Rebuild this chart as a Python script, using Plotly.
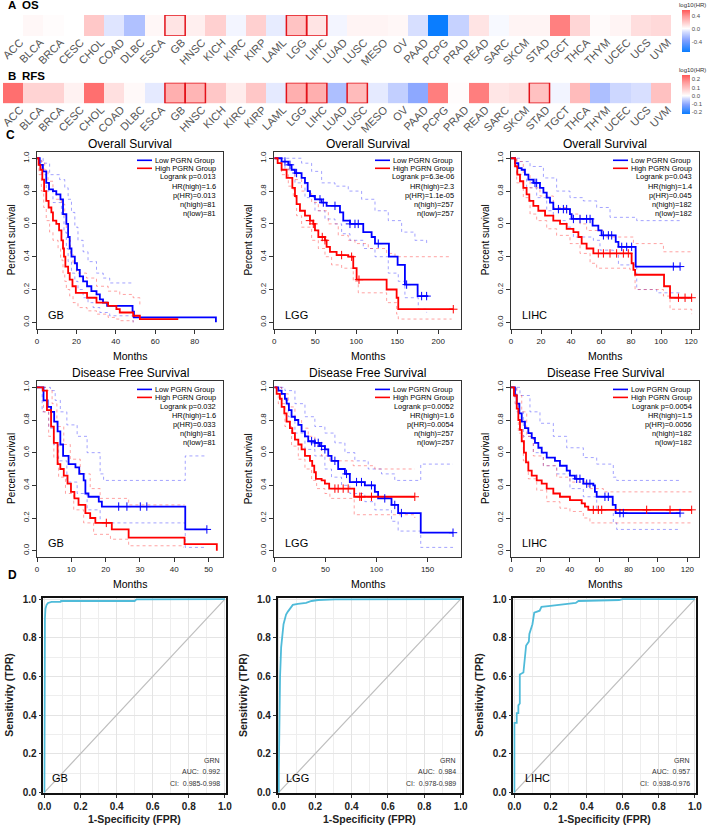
import plotly.graph_objects as go

W, H = 708, 826
FONT = "Arial, Liberation Sans, sans-serif"

# ---------------- heatmap data ----------------
cancers = ["ACC", "BLCA", "BRCA", "CESC", "CHOL", "COAD", "DLBC", "ESCA", "GB", "HNSC", "KICH",
           "KIRC", "KIRP", "LAML", "LGG", "LIHC", "LUAD", "LUSC", "MESO", "OV", "PAAD", "PCPG",
           "PRAD", "READ", "SARC", "SKCM", "STAD", "TGCT", "THCA", "THYM", "UCEC", "UCS", "UVM"]
os_log_hr = [0.0, 0.03, 0.01, 0.0, 0.2, -0.08, -0.22, 0.03, 0.1, 0.06, 0.17,
             -0.03, 0.17, -0.06, 0.22, 0.1, -0.03, 0.04, 0.04, 0.03, -0.1, -0.72,
             -0.15, 0.1, -0.02, 0.04, 0.04, 0.45, 0.15, 0.02, 0.04, 0.12, 0.14]
rfs_log_hr = [0.22, 0.07, 0.07, 0.02, 0.22, 0.05, 0.01, -0.02, 0.13, 0.12, 0.09,
              0.03, 0.09, -0.02, 0.13, 0.13, -0.07, 0.11, -0.02, -0.05, -0.1, 0.2,
              0.005, 0.2, 0.04, 0.05, 0.1, -0.01, 0.11, -0.07, -0.04, -0.03, 0.1]
os_sig = ["GB", "LGG", "LIHC"]
rfs_sig = ["GB", "HNSC", "LGG", "LIHC", "LUSC", "STAD"]
os_ticks = [-0.4, 0.0, 0.4]
rfs_ticks = [-0.2, -0.1, 0.0, 0.1, 0.2]

# ---------------- Kaplan-Meier data (months, survival) ----------------
GB_OS_LOW = [(0, 1.0), (1.4, 0.96), (3.0, 0.92), (4.7, 0.85), (6.1, 0.81), (8.1, 0.80), (9.8, 0.78),
             (11.9, 0.75), (13.2, 0.66), (14.9, 0.60), (15.8, 0.52), (16.6, 0.45), (17.5, 0.40),
             (19.2, 0.36), (20.3, 0.32), (21.7, 0.28), (23.4, 0.25), (25.4, 0.22), (27.6, 0.19),
             (30.2, 0.17), (31.9, 0.14), (33.5, 0.12), (35.6, 0.10), (48.5, 0.065), (49.2, 0.03),
             (90.8, 0.03), (90.8, 0.0)]
GB_OS_HIGH = [(0, 1.0), (0.8, 0.96), (1.7, 0.93), (2.7, 0.87), (3.6, 0.80), (4.7, 0.74), (5.9, 0.70),
              (7.3, 0.67), (8.1, 0.62), (9.8, 0.60), (11.2, 0.56), (12.4, 0.50), (13.2, 0.45),
              (13.7, 0.40), (14.4, 0.34), (15.8, 0.30), (16.6, 0.26), (18.0, 0.22), (19.7, 0.18),
              (25.4, 0.15), (30.2, 0.12), (36.1, 0.10), (40.3, 0.08), (42.0, 0.06), (48.8, 0.04),
              (52.2, 0.02), (71.7, 0.02)]
GB_OS_LOW_UP = [(0, 1.0), (2.2, 1.0), (3.1, 0.97), (6.4, 0.90), (11.5, 0.87), (14.1, 0.82), (15.8, 0.75),
                (17.5, 0.67), (19.2, 0.58), (20.8, 0.50), (23.4, 0.43), (25.9, 0.37), (30.2, 0.30),
                (33.6, 0.27), (36.9, 0.24), (48.8, 0.24)]
GB_OS_LOW_DN = [(0, 1.0), (2.2, 0.90), (4.7, 0.80), (8.1, 0.73), (12.4, 0.65), (13.7, 0.55), (14.9, 0.45),
                (15.8, 0.37), (17.5, 0.30), (19.2, 0.25), (20.8, 0.20), (23.4, 0.15), (25.9, 0.12),
                (28.5, 0.09), (31.9, 0.06), (36.9, 0.04), (48.5, 0.02), (48.8, 0.0)]
GB_OS_HIGH_UP = [(0, 1.0), (2.2, 0.98), (3.9, 0.93), (5.6, 0.86), (8.1, 0.80), (9.8, 0.75), (12.4, 0.72),
                 (14.1, 0.65), (14.9, 0.57), (15.8, 0.50), (17.0, 0.42), (18.3, 0.36), (20.0, 0.30),
                 (25.1, 0.27), (30.2, 0.22), (36.1, 0.19), (42.0, 0.17), (48.8, 0.15), (52.2, 0.10)]
GB_OS_HIGH_DN = [(0, 1.0), (1.0, 0.90), (2.2, 0.80), (3.4, 0.70), (4.7, 0.62), (6.4, 0.55), (8.1, 0.50),
                 (10.7, 0.45), (12.0, 0.38), (13.2, 0.30), (14.1, 0.25), (14.9, 0.20), (16.6, 0.16),
                 (18.3, 0.12), (20.8, 0.09), (25.4, 0.07), (30.2, 0.05), (36.1, 0.03), (40.3, 0.02),
                 (42.0, 0.01), (48.8, 0.0)]
GB_OS_LOW_CENS = []
GB_OS_HIGH_CENS = []
GB_OS_STATS = ["Logrank p=0.013", "HR(high)=1.6", "p(HR)=0.013", "n(high)=81", "n(low)=81"]

LGG_OS_LOW = [(0, 1.0), (8.9, 0.98), (17.1, 0.96), (21.1, 0.93), (25.2, 0.91), (33.3, 0.88), (37.4, 0.85),
              (40.7, 0.80), (43.5, 0.77), (49.6, 0.75), (57.7, 0.73), (63.8, 0.71), (80.1, 0.67),
              (84.1, 0.62), (92.3, 0.60), (108.5, 0.55), (118.7, 0.52), (122.8, 0.48), (139.8, 0.40),
              (150.4, 0.35), (159.3, 0.23), (174.8, 0.16), (187.8, 0.16)]
LGG_OS_HIGH = [(0, 1.0), (4.1, 0.97), (8.9, 0.93), (15.0, 0.88), (22.0, 0.82), (25.2, 0.77), (27.2, 0.72),
               (31.3, 0.68), (37.4, 0.65), (43.5, 0.62), (47.6, 0.60), (49.6, 0.56), (53.7, 0.52),
               (61.8, 0.50), (63.8, 0.46), (67.9, 0.43), (76.0, 0.41), (90.2, 0.40), (96.3, 0.33),
               (100.4, 0.26), (137.0, 0.20), (149.2, 0.15), (151.2, 0.08), (218.3, 0.08)]
LGG_OS_LOW_UP = [(0, 1.0), (33.3, 0.97), (45.5, 0.92), (57.7, 0.85), (74.0, 0.83), (90.2, 0.80),
                 (106.5, 0.75), (122.8, 0.68), (139.0, 0.62), (155.3, 0.55), (171.5, 0.50), (185.8, 0.48)]
LGG_OS_LOW_DN = [(0, 1.0), (13.0, 0.93), (25.2, 0.85), (37.4, 0.76), (49.6, 0.68), (61.8, 0.63), (74.0, 0.60),
                 (82.1, 0.54), (92.3, 0.50), (108.5, 0.45), (122.8, 0.40), (139.0, 0.30), (151.2, 0.25),
                 (159.3, 0.15), (175.6, 0.08), (185.8, 0.06)]
LGG_OS_HIGH_UP = [(0, 1.0), (8.9, 0.98), (17.1, 0.93), (25.2, 0.87), (33.3, 0.80), (45.5, 0.73), (53.7, 0.68),
                  (65.9, 0.60), (78.0, 0.53), (90.2, 0.50), (98.4, 0.48), (114.6, 0.45), (137.0, 0.42),
                  (147.2, 0.40), (216.3, 0.40)]
LGG_OS_HIGH_DN = [(0, 1.0), (8.9, 0.90), (17.1, 0.83), (23.2, 0.76), (27.2, 0.65), (33.3, 0.58), (45.5, 0.50),
                  (53.7, 0.45), (61.8, 0.40), (69.9, 0.35), (82.1, 0.33), (96.3, 0.25), (102.4, 0.18),
                  (137.0, 0.12), (149.2, 0.05), (151.2, 0.02), (216.3, 0.02)]
LGG_OS_LOW_CENS = [(13.0, 0.98), (19.1, 0.96), (27.2, 0.91), (55.7, 0.75), (59.8, 0.73), (74.0, 0.71),
                   (92.3, 0.60), (98.4, 0.60), (102.4, 0.60), (126.8, 0.48), (161.4, 0.23), (179.7, 0.16),
                   (185.8, 0.16)]
LGG_OS_HIGH_CENS = [(43.5, 0.62), (47.6, 0.60), (58.5, 0.52), (61.8, 0.50), (82.1, 0.41), (94.3, 0.40),
                    (103.3, 0.26), (218.3, 0.08)]
LGG_OS_STATS = ["Logrank p=6.3e-06", "HR(high)=2.3", "p(HR)=1.1e-05", "n(high)=257", "n(low)=257"]

LIHC_OS_LOW = [(0, 1.0), (2.7, 0.97), (4.9, 0.94), (7.1, 0.93), (9.3, 0.90), (11.6, 0.87), (14.9, 0.85),
               (19.3, 0.82), (21.6, 0.79), (23.8, 0.76), (26.0, 0.73), (28.2, 0.69), (39.3, 0.66),
               (40.4, 0.63), (54.4, 0.59), (58.2, 0.56), (60.4, 0.53), (69.8, 0.49), (71.6, 0.46),
               (83.1, 0.34), (112.7, 0.34)]
LIHC_OS_HIGH = [(0, 1.0), (2.7, 0.95), (4.2, 0.90), (6.0, 0.86), (8.2, 0.82), (10.4, 0.78), (12.2, 0.74),
                (14.9, 0.71), (18.2, 0.68), (22.7, 0.65), (28.2, 0.62), (32.7, 0.60), (37.1, 0.57),
                (41.6, 0.55), (44.9, 0.52), (47.1, 0.48), (50.4, 0.45), (54.9, 0.42), (80.4, 0.36),
                (81.6, 0.32), (82.7, 0.29), (102.0, 0.22), (106.0, 0.15), (120.4, 0.15)]
LIHC_OS_LOW_UP = [(0, 1.0), (6.0, 0.98), (12.7, 0.95), (21.6, 0.88), (30.4, 0.80), (39.3, 0.76), (48.2, 0.74),
                  (57.1, 0.70), (66.0, 0.64), (83.8, 0.62), (97.1, 0.62), (112.7, 0.63)]
LIHC_OS_LOW_DN = [(0, 1.0), (3.8, 0.90), (10.4, 0.82), (17.1, 0.76), (23.8, 0.68), (28.2, 0.62), (37.1, 0.58),
                  (41.6, 0.52), (54.9, 0.50), (59.3, 0.44), (68.2, 0.42), (71.6, 0.35), (83.8, 0.20),
                  (97.1, 0.18), (112.7, 0.18)]
LIHC_OS_HIGH_UP = [(0, 1.0), (3.8, 0.98), (8.2, 0.90), (12.7, 0.82), (19.3, 0.77), (28.2, 0.70), (37.1, 0.66),
                   (46.0, 0.60), (50.4, 0.56), (61.6, 0.52), (79.3, 0.52), (81.6, 0.48), (101.6, 0.43),
                   (120.4, 0.43)]
LIHC_OS_HIGH_DN = [(0, 1.0), (3.8, 0.85), (8.2, 0.76), (12.7, 0.66), (17.1, 0.62), (23.8, 0.57), (30.4, 0.53),
                   (39.3, 0.48), (46.0, 0.42), (52.7, 0.36), (57.1, 0.33), (79.3, 0.32), (82.7, 0.20),
                   (101.6, 0.16), (106.0, 0.08), (120.4, 0.05)]
LIHC_OS_LOW_CENS = [(16.0, 0.85), (17.1, 0.85), (31.6, 0.69), (34.9, 0.69), (37.1, 0.69), (41.6, 0.63),
                    (46.0, 0.63), (50.4, 0.63), (52.7, 0.63), (61.6, 0.53), (64.9, 0.53), (67.1, 0.53),
                    (73.8, 0.46), (77.1, 0.46), (80.4, 0.46), (108.2, 0.34), (112.7, 0.34)]
LIHC_OS_HIGH_CENS = [(58.2, 0.42), (61.6, 0.42), (66.0, 0.42), (70.4, 0.42), (74.9, 0.42), (78.2, 0.42),
                     (111.6, 0.15), (116.0, 0.15), (120.4, 0.15)]
LIHC_OS_STATS = ["Logrank p=0.043", "HR(high)=1.4", "p(HR)=0.045", "n(high)=182", "n(low)=182"]

GB_DFS_LOW = [(0, 1.0), (1.9, 0.92), (3.1, 0.88), (4.1, 0.85), (5.0, 0.79), (6.0, 0.73), (6.8, 0.65),
              (7.6, 0.58), (9.2, 0.53), (11.2, 0.51), (12.3, 0.47), (13.6, 0.43), (14.1, 0.35),
              (15.0, 0.33), (18.0, 0.30), (18.9, 0.27), (43.2, 0.13), (49.5, 0.13)]
GB_DFS_HIGH = [(0, 1.0), (1.7, 0.98), (2.9, 0.86), (4.1, 0.76), (4.9, 0.66), (6.0, 0.53), (6.8, 0.50),
               (7.8, 0.46), (8.9, 0.41), (9.9, 0.36), (10.9, 0.32), (12.1, 0.28), (14.1, 0.23),
               (15.5, 0.20), (17.0, 0.17), (21.8, 0.13), (26.7, 0.08), (43.0, 0.04), (52.4, 0.04),
               (52.4, 0.0)]
GB_DFS_LOW_UP = [(0, 1.0), (3.9, 0.98), (5.3, 0.92), (6.8, 0.85), (8.7, 0.77), (11.7, 0.70), (14.6, 0.60),
                 (18.4, 0.47), (19.4, 0.43), (43.2, 0.58), (49.0, 0.58)]
GB_DFS_LOW_DN = [(0, 1.0), (1.5, 0.85), (3.4, 0.75), (4.9, 0.65), (6.3, 0.55), (8.7, 0.42), (11.7, 0.35),
                 (14.6, 0.25), (18.4, 0.17), (43.2, 0.02), (49.0, 0.02)]
GB_DFS_HIGH_UP = [(0, 1.0), (2.9, 0.98), (4.4, 0.90), (5.8, 0.76), (7.8, 0.65), (9.7, 0.56), (12.6, 0.47),
                  (15.5, 0.38), (18.4, 0.32), (26.7, 0.28), (43.0, 0.28)]
GB_DFS_HIGH_DN = [(0, 1.0), (1.9, 0.85), (3.4, 0.70), (4.9, 0.57), (6.3, 0.45), (8.3, 0.35), (10.7, 0.25),
                  (13.6, 0.17), (16.5, 0.10), (21.4, 0.07), (26.7, 0.03), (42.7, 0.02)]
GB_DFS_LOW_CENS = [(23.8, 0.27), (26.2, 0.27), (30.1, 0.27), (32.0, 0.27), (49.5, 0.13)]
GB_DFS_HIGH_CENS = [(20.2, 0.17)]
GB_DFS_STATS = ["Logrank p=0.032", "HR(high)=1.6", "p(HR)=0.033", "n(high)=81", "n(low)=81"]

LGG_DFS_LOW = [(0, 1.0), (3.9, 0.98), (7.2, 0.96), (10.4, 0.93), (12.1, 0.90), (14.3, 0.86), (16.9, 0.82),
               (20.2, 0.80), (23.5, 0.77), (26.7, 0.73), (30.0, 0.70), (33.2, 0.67), (39.7, 0.66),
               (44.6, 0.64), (49.5, 0.62), (52.8, 0.58), (56.0, 0.55), (62.5, 0.50), (69.1, 0.47),
               (73.9, 0.42), (88.6, 0.40), (98.4, 0.36), (101.6, 0.32), (114.7, 0.28), (121.2, 0.23),
               (143.3, 0.11), (174.9, 0.11)]
LGG_DFS_HIGH = [(0, 1.0), (2.3, 0.96), (5.5, 0.93), (7.2, 0.88), (9.8, 0.84), (12.0, 0.79), (15.3, 0.75),
                (17.6, 0.72), (20.2, 0.68), (23.5, 0.65), (26.7, 0.62), (30.0, 0.58), (34.9, 0.55),
                (37.1, 0.52), (39.1, 0.48), (40.7, 0.44), (46.3, 0.43), (49.5, 0.41), (53.7, 0.38),
                (78.2, 0.33), (137.5, 0.33)]
LGG_DFS_LOW_UP = [(0, 1.0), (10.4, 0.98), (20.2, 0.90), (30.0, 0.82), (39.7, 0.76), (49.5, 0.72), (59.3, 0.66),
                  (69.1, 0.60), (78.8, 0.55), (91.9, 0.50), (104.9, 0.47), (117.9, 0.43), (143.3, 0.53),
                  (174.9, 0.53)]
LGG_DFS_LOW_DN = [(0, 1.0), (7.2, 0.92), (13.7, 0.82), (20.2, 0.72), (30.0, 0.62), (39.7, 0.58), (49.5, 0.50),
                  (56.0, 0.45), (65.8, 0.40), (73.9, 0.35), (88.6, 0.30), (98.4, 0.25), (114.7, 0.18),
                  (121.2, 0.12), (143.3, 0.02), (174.9, 0.02)]
LGG_DFS_HIGH_UP = [(0, 1.0), (7.2, 0.96), (13.7, 0.88), (20.2, 0.80), (26.7, 0.75), (33.2, 0.70), (39.7, 0.64),
                   (46.3, 0.58), (54.4, 0.55), (77.2, 0.52), (98.4, 0.50), (137.5, 0.50)]
LGG_DFS_HIGH_DN = [(0, 1.0), (3.9, 0.90), (10.4, 0.76), (16.9, 0.64), (23.5, 0.56), (30.0, 0.50), (36.5, 0.43),
                   (41.4, 0.38), (49.5, 0.35), (54.4, 0.32), (78.2, 0.22), (137.5, 0.20)]
LGG_DFS_LOW_CENS = [(36.5, 0.67), (39.7, 0.66), (43.0, 0.66), (46.3, 0.64), (49.5, 0.62), (59.3, 0.55),
                    (70.7, 0.47), (80.5, 0.42), (85.3, 0.42), (95.1, 0.40), (108.1, 0.32), (117.9, 0.28),
                    (124.4, 0.23), (174.9, 0.11)]
LGG_DFS_HIGH_CENS = [(59.3, 0.38), (62.5, 0.38), (67.4, 0.38), (72.3, 0.38), (83.7, 0.33), (85.3, 0.33),
                     (95.1, 0.33), (137.5, 0.33)]
LGG_DFS_STATS = ["Logrank p=0.0052", "HR(high)=1.6", "p(HR)=0.0054", "n(high)=257", "n(low)=257"]

LIHC_DFS_LOW = [(0, 1.0), (2.7, 0.95), (3.9, 0.90), (5.7, 0.84), (7.3, 0.79), (9.5, 0.75), (11.8, 0.72),
                (14.1, 0.69), (16.3, 0.66), (18.6, 0.63), (20.9, 0.60), (24.3, 0.57), (29.9, 0.55),
                (33.3, 0.52), (37.9, 0.49), (40.1, 0.46), (43.5, 0.44), (49.2, 0.41), (56.0, 0.40),
                (57.1, 0.36), (58.3, 0.33), (69.2, 0.28), (71.2, 0.23), (115.0, 0.23)]
LIHC_DFS_HIGH = [(0, 1.0), (2.0, 0.95), (3.9, 0.87), (5.0, 0.80), (6.1, 0.74), (7.3, 0.67), (8.8, 0.60),
                 (10.2, 0.54), (11.8, 0.49), (14.1, 0.46), (17.5, 0.43), (20.9, 0.41), (24.3, 0.38),
                 (28.8, 0.35), (33.3, 0.33), (40.1, 0.31), (48.1, 0.29), (50.3, 0.27), (52.6, 0.25),
                 (122.9, 0.25)]
LIHC_DFS_LOW_UP = [(0, 1.0), (6.1, 0.95), (12.9, 0.85), (19.7, 0.78), (28.8, 0.70), (37.9, 0.63), (49.2, 0.57),
                   (58.3, 0.53), (69.6, 0.45), (71.9, 0.43), (115.0, 0.43)]
LIHC_DFS_LOW_DN = [(0, 1.0), (3.9, 0.85), (8.4, 0.70), (15.2, 0.60), (22.0, 0.52), (31.1, 0.47), (40.1, 0.38),
                   (49.2, 0.33), (58.3, 0.25), (69.6, 0.17), (71.9, 0.13), (115.0, 0.13)]
LIHC_DFS_HIGH_UP = [(0, 1.0), (3.9, 0.95), (7.3, 0.85), (10.7, 0.70), (15.2, 0.58), (22.0, 0.52), (31.1, 0.45),
                    (40.1, 0.42), (52.6, 0.38), (62.8, 0.36), (122.9, 0.36)]
LIHC_DFS_HIGH_DN = [(0, 1.0), (2.7, 0.90), (5.0, 0.72), (8.4, 0.55), (11.8, 0.44), (17.5, 0.37), (24.3, 0.30),
                    (33.3, 0.26), (40.1, 0.24), (49.2, 0.20), (53.7, 0.17), (122.9, 0.17)]
LIHC_DFS_LOW_CENS = [(44.7, 0.44), (46.9, 0.44), (51.5, 0.41), (53.7, 0.41), (63.9, 0.33), (66.2, 0.33),
                     (74.1, 0.23), (76.4, 0.23), (115.0, 0.23)]
LIHC_DFS_HIGH_CENS = [(56.0, 0.25), (59.4, 0.25), (61.7, 0.25), (92.3, 0.25), (108.2, 0.25), (122.9, 0.25)]
LIHC_DFS_STATS = ["Logrank p=0.0054", "HR(high)=1.5", "p(HR)=0.0056", "n(high)=182", "n(low)=182"]

# ---------------- ROC data (FPR, TPR) ----------------
GB_ROC = [(0, 0), (0.0, 0.5), (0.003, 0.9), (0.006, 0.95), (0.012, 0.97), (0.02, 0.98), (0.04, 0.985),
          (0.09, 0.985), (0.092, 0.99), (0.5, 0.99), (0.51, 0.998), (1.0, 1.0)]
LGG_ROC = [(0, 0), (0.0, 0.1), (0.007, 0.6), (0.013, 0.75), (0.026, 0.87), (0.04, 0.92), (0.05, 0.935),
           (0.068, 0.96), (0.077, 0.97), (0.105, 0.975), (0.15, 0.98), (0.18, 0.99), (0.216, 0.995),
           (0.31, 0.998), (1.0, 1.0)]
LIHC_ROC = [(0, 0), (0.0, 0.36), (0.013, 0.36), (0.013, 0.41), (0.022, 0.41), (0.022, 0.45), (0.03, 0.46),
            (0.03, 0.61), (0.05, 0.62), (0.055, 0.68), (0.065, 0.76), (0.08, 0.78), (0.083, 0.82),
            (0.1, 0.87), (0.11, 0.93), (0.14, 0.94), (0.15, 0.96), (0.2, 0.965), (0.31, 0.975),
            (0.34, 0.98), (0.355, 0.99), (0.58, 0.995), (0.6, 1.0), (1.0, 1.0)]
GB_ROC_TEXT = ["GRN", "AUC:  0.992", "CI:  0.985-0.998"]
LGG_ROC_TEXT = ["GRN", "AUC:  0.984", "CI:  0.978-0.989"]
LIHC_ROC_TEXT = ["GRN", "AUC:  0.957", "CI:  0.938-0.976"]


# ---------------- helpers ----------------
def fx(p):
    return p / W


def fy(p):
    return 1 - p / H


fig = go.Figure()
ann = []
shapes = []
layout_axes = {}


def text_px(x, y, text, size, xanchor="center", yanchor="middle", color="#000000", angle=0, bold=False):
    if bold:
        text = "<b>" + text + "</b>"
    ann.append(dict(x=fx(x), y=fy(y), xref="paper", yref="paper", text=text, showarrow=False,
                    xanchor=xanchor, yanchor=yanchor, textangle=angle, borderpad=0,
                    font=dict(size=size, color=color, family=FONT)))


def diverging(zmin, zmax):
    m = -zmin / (zmax - zmin)
    return [[0.0, "rgb(10,125,255)"], [m * 0.5, "rgb(130,160,255)"], [m * 0.85, "rgb(212,220,255)"],
            [m, "rgb(255,255,255)"], [m + (1 - m) * 0.3, "rgb(255,208,208)"],
            [m + (1 - m) * 0.65, "rgb(255,155,155)"], [1.0, "rgb(255,88,88)"]]


# ---------------- heatmaps ----------------
def heat_row(n, values, sig, zmin, zmax, ticks, top, bottom, cb_top, cb_len, label1, label2, label_y):
    xa, ya = ("x", "y") if n == 1 else (f"x{n}", f"y{n}")
    fig.add_trace(go.Heatmap(
        z=[values], x=cancers, y=["r"], xaxis=xa, yaxis=ya, zmin=zmin, zmax=zmax,
        colorscale=diverging(zmin, zmax), hoverinfo="skip",
        colorbar=dict(thickness=8, thicknessmode="pixels", len=cb_len, lenmode="pixels",
                      x=fx(682), xanchor="left", y=fy(cb_top), yanchor="top", xpad=0, ypad=0,
                      outlinewidth=0, tickvals=ticks, ticktext=[f"{t:.1f}" for t in ticks],
                      ticks="", tickfont=dict(size=6, color="#4d4d4d", family=FONT))))
    key = "" if n == 1 else str(n)
    layout_axes["xaxis" + key] = dict(domain=[fx(3), fx(671)], anchor=ya, tickangle=-45, showgrid=False,
                                      zeroline=False, showline=False, ticks="", automargin=False,
                                      ticklabelstandoff=-3, ticklabelshift=7,
                                      tickfont=dict(size=11, color="#555555", family=FONT))
    layout_axes["yaxis" + key] = dict(domain=[fy(bottom), fy(top)], anchor=xa, visible=False,
                                      range=[-0.5, 0.5], automargin=False)
    for c in sig:
        i = cancers.index(c)
        shapes.append(dict(type="rect", xref=xa, yref=ya, x0=i - 0.5, x1=i + 0.5, y0=-0.5, y1=0.5,
                           line=dict(color="#E3121A", width=1.5)))
    text_px(678, cb_top - 5.5, "log10(HR)", 6, xanchor="left", color="#333333")
    text_px(7, label_y, label1, 11.5, xanchor="left", bold=True)
    text_px(20.5, label_y, label2, 11.5, xanchor="left", bold=True)


heat_row(1, os_log_hr, os_sig, -0.72, 0.57, os_ticks, 15, 36, 10, 42, "A", "OS", 4.5)
heat_row(2, rfs_log_hr, rfs_sig, -0.22, 0.25, rfs_ticks, 82.7, 103.3, 75, 39, "B", "RFS", 75.5)

# ---------------- KM panels ----------------
BLUE, RED = "#0000FF", "#FF0000"
BLUE_CI, RED_CI = "rgba(50,50,255,0.5)", "rgba(255,50,50,0.5)"


def km_panel(n, box, xmax, xticks, title, name, stats, low, high, low_ci, high_ci, low_c, high_c):
    x0, y0, x1, y1 = box
    xa, ya = f"x{n}", f"y{n}"

    def step(pts, color, width, dash):
        fig.add_trace(go.Scatter(x=[p[0] for p in pts], y=[p[1] for p in pts], mode="lines",
                                 line=dict(color=color, width=width, dash=dash, shape="hv"),
                                 xaxis=xa, yaxis=ya, showlegend=False, hoverinfo="skip"))

    for ci in low_ci:
        step(ci, BLUE_CI, 0.9, "dot")
    for ci in high_ci:
        step(ci, RED_CI, 0.9, "dot")
    step(low, BLUE, 1.8, "solid")
    step(high, RED, 1.8, "solid")
    for cens, col in ((low_c, BLUE), (high_c, RED)):
        if cens:
            fig.add_trace(go.Scatter(x=[p[0] for p in cens], y=[p[1] for p in cens], mode="markers",
                                     marker=dict(symbol="cross-thin", size=6, line=dict(width=1, color=col)),
                                     xaxis=xa, yaxis=ya, showlegend=False, hoverinfo="skip"))
    common = dict(showline=True, mirror=True, linecolor="#333333", linewidth=1, ticks="outside", ticklen=4,
                  tickcolor="#333333", showgrid=False, zeroline=False, automargin=False,
                  tickfont=dict(size=8, color="#222222", family=FONT))
    layout_axes[f"xaxis{n}"] = dict(domain=[fx(x0), fx(x1)], anchor=ya, range=[0, xmax], tickvals=xticks,
                                    **common)
    layout_axes[f"yaxis{n}"] = dict(domain=[fy(y1), fy(y0)], anchor=xa, range=[-0.04, 1.04],
                                    tickvals=[0, 0.2, 0.4, 0.6, 0.8, 1.0],
                                    ticktext=["0.0", "0.2", "0.4", "0.6", "0.8", "1.0"], tickangle=-90,
                                    **common)
    text_px((x0 + x1) / 2, y0 - 7.5, title, 12)
    text_px((x0 + x1) / 2, y1 + 27, "Months", 10.5)
    text_px(x0 - 26, (y0 + y1) / 2, "Percent survival", 10, angle=-90)
    text_px(x0 + 10, y1 - 14, name, 11, xanchor="left")
    # legend
    for k, (lab, col) in enumerate((("Low PGRN Group", BLUE), ("High PGRN Group", RED))):
        yy = y0 + 8.6 + 8.0 * k
        shapes.append(dict(type="line", xref="paper", yref="paper", x0=fx(x1 - 86), x1=fx(x1 - 71),
                           y0=fy(yy), y1=fy(yy), line=dict(color=col, width=1.6)))
        text_px(x1 - 69, yy, lab, 7.4, xanchor="left")
    for k, s in enumerate(stats):
        text_px(x1 - 6, y0 + 25.2 + 9.2 * k, s, 7.4, xanchor="right")


km_panel(3, (37, 151.7, 223, 328.9), 94.4, [0, 20, 40, 60, 80], "Overall Survival", "GB", GB_OS_STATS,
         GB_OS_LOW, GB_OS_HIGH, [GB_OS_LOW_UP, GB_OS_LOW_DN], [GB_OS_HIGH_UP, GB_OS_HIGH_DN],
         GB_OS_LOW_CENS, GB_OS_HIGH_CENS)
km_panel(4, (274.3, 151.7, 461, 328.9), 227.7, [0, 50, 100, 150, 200], "Overall Survival", "LGG", LGG_OS_STATS,
         LGG_OS_LOW, LGG_OS_HIGH, [LGG_OS_LOW_UP, LGG_OS_LOW_DN], [LGG_OS_HIGH_UP, LGG_OS_HIGH_DN],
         LGG_OS_LOW_CENS, LGG_OS_HIGH_CENS)
km_panel(5, (511, 151.7, 699, 328.9), 125.3, [0, 20, 40, 60, 80, 100, 120], "Overall Survival", "LIHC",
         LIHC_OS_STATS, LIHC_OS_LOW, LIHC_OS_HIGH, [LIHC_OS_LOW_UP, LIHC_OS_LOW_DN],
         [LIHC_OS_HIGH_UP, LIHC_OS_HIGH_DN], LIHC_OS_LOW_CENS, LIHC_OS_HIGH_CENS)
km_panel(6, (37, 380.8, 223, 557.2), 54.2, [0, 10, 20, 30, 40, 50], "Disease Free Survival", "GB", GB_DFS_STATS,
         GB_DFS_LOW, GB_DFS_HIGH, [GB_DFS_LOW_UP, GB_DFS_LOW_DN], [GB_DFS_HIGH_UP, GB_DFS_HIGH_DN],
         GB_DFS_LOW_CENS, GB_DFS_HIGH_CENS)
km_panel(7, (274.3, 380.8, 461, 557.2), 182.7, [0, 50, 100, 150], "Disease Free Survival", "LGG",
         LGG_DFS_STATS, LGG_DFS_LOW, LGG_DFS_HIGH, [LGG_DFS_LOW_UP, LGG_DFS_LOW_DN],
         [LGG_DFS_HIGH_UP, LGG_DFS_HIGH_DN], LGG_DFS_LOW_CENS, LGG_DFS_HIGH_CENS)
km_panel(8, (511, 380.8, 699, 557.2), 127.9, [0, 20, 40, 60, 80, 100, 120], "Disease Free Survival", "LIHC",
         LIHC_DFS_STATS, LIHC_DFS_LOW, LIHC_DFS_HIGH, [LIHC_DFS_LOW_UP, LIHC_DFS_LOW_DN],
         [LIHC_DFS_HIGH_UP, LIHC_DFS_HIGH_DN], LIHC_DFS_LOW_CENS, LIHC_DFS_HIGH_CENS)

# ---------------- ROC panels ----------------
ROC_COLOR = "#4FBBD9"


def roc_panel(n, box, pts, name, name_dx, texts):
    x0, y0, x1, y1 = box
    xa, ya = f"x{n}", f"y{n}"
    fig.add_trace(go.Scatter(x=[0, 1], y=[0, 1], mode="lines", line=dict(color="#BEBEBE", width=1.2),
                             xaxis=xa, yaxis=ya, showlegend=False, hoverinfo="skip"))
    fig.add_trace(go.Scatter(x=[p[0] for p in pts], y=[p[1] for p in pts], mode="lines",
                             line=dict(color=ROC_COLOR, width=1.8), xaxis=xa, yaxis=ya, showlegend=False,
                             hoverinfo="skip"))
    common = dict(showline=True, mirror=True, linecolor="#111111", linewidth=1.5, ticks="outside", ticklen=3,
                  tickcolor="#333333", showgrid=True, gridcolor="#E4E4E4", gridwidth=1, zeroline=False,
                  dtick=0.2, tick0=0, tickformat=".1f", automargin=False,
                  minor=dict(dtick=0.1, showgrid=True, gridcolor="#EEEEEE", ticks=""),
                  tickfont=dict(size=10, color="#222222", family=FONT, weight="bold"))
    layout_axes[f"xaxis{n}"] = dict(domain=[fx(x0), fx(x1)], anchor=ya, range=[-0.006, 1.006], **common)
    layout_axes[f"yaxis{n}"] = dict(domain=[fy(y1), fy(y0)], anchor=xa, range=[-0.003, 1.007], **common)
    text_px((x0 + x1) / 2, y1 + 25.5, "1-Specificity (FPR)", 10.5, bold=True, color="#222222")
    text_px(x0 - 34, (y0 + y1) / 2, "Sensitivity (TPR)", 10.5, bold=True, angle=-90, color="#222222")
    text_px(x0 + name_dx, y1 - 14.7, name, 11, xanchor="left")
    for k, t in enumerate(texts):
        text_px(x1 - 5, y1 - 33 + 11.7 * k, t, 7, xanchor="right", color="#333333")


roc_panel(9, (43.3, 597.7, 226, 793), GB_ROC, "GB", 7.7, GB_ROC_TEXT)
roc_panel(10, (277.7, 597.7, 461.7, 793), LGG_ROC, "LGG", 7.3, LGG_ROC_TEXT)
roc_panel(11, (513.3, 597.7, 696, 793), LIHC_ROC, "LIHC", 11, LIHC_ROC_TEXT)

text_px(10.8, 135.3, "C", 12, bold=True)
text_px(12, 575.3, "D", 12, bold=True)

fig.update_layout(width=W, height=H, margin=dict(l=0, r=0, t=0, b=0, autoexpand=False),
                  paper_bgcolor="white", plot_bgcolor="white", showlegend=False, font=dict(family=FONT),
                  annotations=ann, shapes=shapes, **layout_axes)
fig.write_html("out.html")
